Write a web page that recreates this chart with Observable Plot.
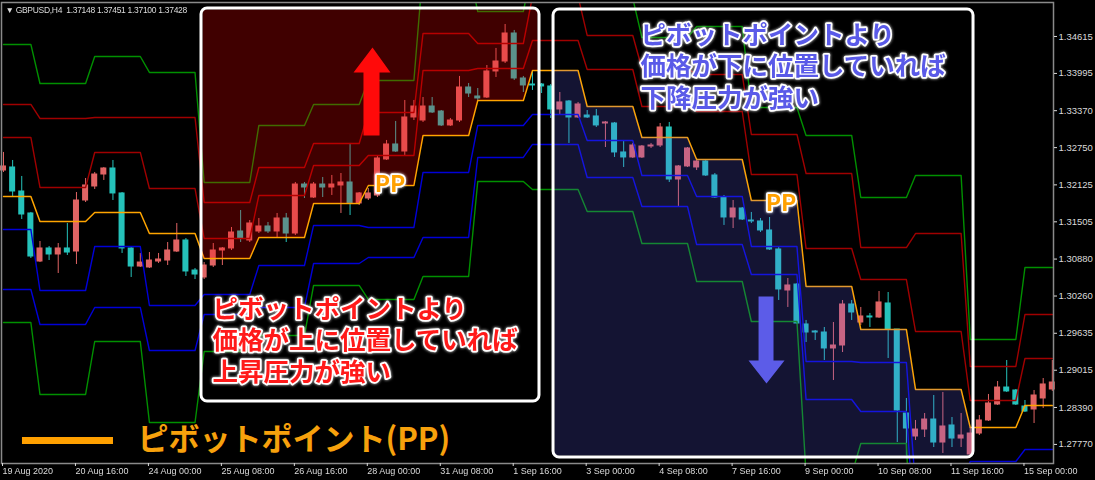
<!DOCTYPE html>
<html><head><meta charset="utf-8">
<script src="https://cdn.jsdelivr.net/npm/d3@7"></script>
<script src="https://cdn.jsdelivr.net/npm/@observablehq/plot@0.6"></script>
<style>
html,body{margin:0;padding:0;background:#000;}
#chart{width:1095px;height:480px;overflow:hidden;background:#000;}
</style></head><body><div id="chart"></div>
<script>
// ---- Data (GBPUSD H4, bar 0 = 19 Aug 2020 08:00) ----
const openP = [1.32366,1.32417,1.32014,1.31645,1.30839,1.31058,1.30957,1.31058,1.31007,1.31863,
1.32098,1.32299,1.32400,1.31981,1.31058,1.30755,1.30739,1.30839,1.30856,1.31007,
1.31192,1.30688,1.30571,1.30772,1.31024,1.31058,1.31343,1.31192,1.31343,1.31427,
1.31343,1.31561,1.31309,1.32131,1.31913,1.32131,1.32081,1.32115,1.32165,1.31813,
1.31897,1.31947,1.32551,1.32803,1.32685,1.33256,1.33205,1.33440,1.33356,1.33122,
1.33205,1.33759,1.33608,1.33591,1.34028,1.34195,1.34665,1.33910,1.33809,1.33809,
1.33776,1.33390,1.33524,1.33256,1.33289,1.33273,1.33155,1.33155,1.32669,1.32585,
1.32585,1.32769,1.32786,1.33088,1.32215,1.32434,1.32417,1.32517,1.32283,1.31913,
1.31578,1.31729,1.31527,1.31511,1.31360,1.31041,1.30353,1.30453,1.29783,1.29665,
1.29648,1.29380,1.29430,1.30118,1.29816,1.29917,1.29900,1.30135,1.29698,1.28289,
1.27903,1.28020,1.28188,1.27802,1.28088,1.27869,1.27601,1.27953,1.28172,1.28440,
1.28725,1.28675,1.28406,1.28356,1.28541,1.28692];
const highP = [1.32669,1.32534,1.32266,1.31662,1.31175,1.31091,1.31141,1.31477,1.31997,1.32232,
1.32333,1.32417,1.32534,1.31997,1.31074,1.30974,1.30990,1.30974,1.31158,1.31477,
1.31225,1.30722,1.30822,1.31141,1.31074,1.31410,1.31695,1.31527,1.31561,1.31494,
1.31645,1.31645,1.32165,1.32165,1.32165,1.32249,1.32283,1.32316,1.32820,1.31997,
1.32064,1.32601,1.32870,1.33189,1.33541,1.33541,1.33591,1.33591,1.33373,1.33239,
1.33944,1.33826,1.33742,1.34128,1.34414,1.34816,1.34716,1.33944,1.34028,1.33826,
1.33809,1.33675,1.33541,1.33508,1.33373,1.33390,1.33189,1.33172,1.32870,1.32820,
1.32786,1.32820,1.33155,1.33172,1.32450,1.32752,1.32568,1.32534,1.32316,1.31947,
1.31863,1.31746,1.31662,1.31561,1.31578,1.31074,1.30554,1.30470,1.29850,1.29682,
1.29732,1.29816,1.30185,1.30185,1.30068,1.29967,1.30336,1.30319,1.29698,1.28541,
1.28172,1.28289,1.28591,1.28642,1.28222,1.28289,1.28054,1.28255,1.28608,1.28826,
1.29178,1.28692,1.28507,1.28675,1.28876,1.29178];
const lowP = [1.32333,1.31930,1.31544,1.30890,1.30822,1.30856,1.30638,1.30940,1.30789,1.31829,
1.32048,1.32199,1.31863,1.30974,1.30571,1.30739,1.30722,1.30806,1.30772,1.30990,
1.30588,1.30537,1.30537,1.30739,1.30772,1.31024,1.31158,1.31158,1.31309,1.31309,
1.31242,1.31158,1.31276,1.31897,1.31897,1.31913,1.31947,1.31645,1.31611,1.31779,
1.31863,1.31913,1.32534,1.32669,1.32618,1.33205,1.33172,1.33323,1.33105,1.33105,
1.33172,1.33591,1.33541,1.33575,1.33927,1.34162,1.33877,1.33675,1.33709,1.33658,
1.33239,1.33289,1.32820,1.33239,1.33239,1.33088,1.32752,1.32585,1.32417,1.32568,
1.32568,1.32736,1.32752,1.32165,1.31746,1.32417,1.32366,1.32266,1.31897,1.31444,
1.31393,1.31527,1.31477,1.31326,1.31024,1.30185,1.30068,1.29783,1.29480,1.29514,
1.29178,1.28843,1.29312,1.29850,1.29766,1.29732,1.29884,1.29212,1.27802,1.27584,
1.27836,1.27886,1.27718,1.27618,1.27718,1.27718,1.27567,1.27920,1.28155,1.28423,
1.28642,1.28423,1.28306,1.28121,1.28373,1.28659];
const closeP = [1.32434,1.32014,1.31628,1.30923,1.31058,1.30957,1.31058,1.30990,1.31863,1.32115,
1.32299,1.32400,1.31981,1.31058,1.30755,1.30822,1.30856,1.30873,1.31024,1.31192,
1.30672,1.30621,1.30772,1.31024,1.31058,1.31326,1.31225,1.31477,1.31427,1.31343,
1.31561,1.31309,1.32131,1.32081,1.32131,1.32081,1.32131,1.32165,1.31813,1.31981,
1.31981,1.32568,1.32803,1.32685,1.33256,1.33440,1.33440,1.33340,1.33122,1.33205,
1.33759,1.33658,1.33575,1.34028,1.34195,1.34665,1.33910,1.33793,1.33793,1.33776,
1.33390,1.33508,1.33256,1.33474,1.33256,1.33122,1.33172,1.32669,1.32585,1.32786,
1.32769,1.32786,1.33088,1.32215,1.32434,1.32736,1.32517,1.32283,1.31913,1.31578,
1.31729,1.31544,1.31511,1.31360,1.31041,1.30370,1.30437,1.29799,1.29648,1.29648,
1.29380,1.29430,1.30118,1.29984,1.29917,1.29900,1.30152,1.29698,1.28339,1.28037,
1.28020,1.28188,1.27802,1.28071,1.27869,1.27920,1.27953,1.28172,1.28457,1.28725,
1.28659,1.28440,1.28322,1.28591,1.28776,1.28809];

// first bar index of each trading day (19 Aug ... 15 Sep)
const dayStart = [0,4,10,16,22,28,34,40,46,52,58,64,70,76,82,88,94,100,106,112];
// daily pivot levels
const R3 = [1.34481,1.33826,1.34279,1.34011,1.32165,1.33122,1.33474,1.33877,1.35756,1.35034,1.35790,1.35253,1.34598,1.34783,1.33424,1.32954,1.31913,1.32283,1.29531,1.30739];
const R2 = [1.33474,1.33239,1.33256,1.33256,1.31829,1.32417,1.32820,1.33340,1.34665,1.34497,1.35286,1.34632,1.34078,1.33977,1.32971,1.32316,1.31074,1.31309,1.29078,1.29950];
const R1 = [1.32920,1.32081,1.32669,1.32064,1.31225,1.31947,1.32450,1.32618,1.34044,1.34078,1.34548,1.34061,1.33440,1.33356,1.32299,1.31058,1.30537,1.29665,1.28507,1.29212];
const PP = [1.31930,1.31511,1.31662,1.31309,1.30890,1.31242,1.31813,1.32115,1.32954,1.33541,1.34044,1.33440,1.32920,1.32551,1.31863,1.30420,1.29698,1.28692,1.28054,1.28423];
const S1 = [1.31376,1.30353,1.31091,1.30101,1.30286,1.30772,1.31444,1.31410,1.32333,1.33122,1.33306,1.32870,1.32283,1.31930,1.31091,1.29161,1.29145,1.27047,1.27483,1.27685];
const S2 = [1.30370,1.29783,1.30068,1.29346,1.29950,1.30068,1.30806,1.30906,1.31242,1.32585,1.32803,1.32249,1.31762,1.31125,1.30621,1.28524,1.28322,1.26074,1.27030,1.26896];
const S3 = [1.29816,1.28608,1.29497,1.28138,1.29329,1.29598,1.30437,1.30202,1.30588,1.32182,1.32048,1.31678,1.31141,1.30504,1.29833,1.27265,1.27786,1.24430,1.26460,1.26158];

const tickBars = [0,8,16,24,32,40,48,56,64,72,80,88,96,104,112];
const tickLabels = ["19 Aug 2020","20 Aug 16:00","24 Aug 00:00","25 Aug 08:00","26 Aug 16:00","28 Aug 00:00","31 Aug 08:00","1 Sep 16:00","3 Sep 00:00","4 Sep 08:00","7 Sep 16:00","9 Sep 00:00","10 Sep 08:00","11 Sep 16:00","15 Sep 00:00"];
const priceTicks = [1.34615,1.33995,1.33370,1.32750,1.32125,1.31505,1.30880,1.30260,1.29635,1.29015,1.28390,1.27770];
const headerText = "▼ GBPUSD,H4  1.37148 1.37451 1.37100 1.37428";

// ---- Annotations (data coordinates: bar index, price) ----
const redBox = {x1: 21.71, x2: 58.77, y1: 1.28490, y2: 1.35085};
const blueBox = {x1: 60.31, x2: 106.36, y1: 1.27551, y2: 1.35068};
const upArrow = [[39.47,1.32954],[39.47,1.34011],[38.38,1.34011],[40.46,1.34430],[42.43,1.34011],[41.23,1.34011],[41.23,1.32954]];
const downArrow = [[82.79,1.30252],[82.79,1.29178],[81.69,1.29178],[83.66,1.28792],[85.64,1.29178],[84.43,1.29178],[84.43,1.30252]];
const redNote = {x: 22.92, y: 1.29531, text: "ピボットポイントより\n価格が上に位置していれば\n上昇圧力が強い"};
const blueNote = {x: 69.85, y: 1.34128, text: "ピボットポイントより\n価格が下に位置していれば\n下降圧力が強い"};
const ppLabels = [{x: 42.38, y: 1.32131}, {x: 85.25, y: 1.31813}];
const legend = {x1: 2.08, x2: 12.06, y: 1.27836, tx: 14.69, text: "ピボットポイント(PP)"};

// ---- Build tables ----
const bars = openP.map((o, i) => ({i, o, h: highP[i], l: lowP[i], c: closeP[i]}));
const dayOf = i => d3.bisectRight(dayStart, i) - 1;
const perBar = arr => bars.map(b => ({i: b.i, v: arr[dayOf(b.i)]}));
const bull = "#e06464", bear = "#25c2ba";
const colOf = d => d.c >= d.o ? bull : bear;
const yTop = 1.35185, yBot = 1.27450;

const levelStyles = [
  [R3, "#009000"], [R2, "#a00000"], [R1, "#a00000"],
  [S1, "#0000d8"], [S2, "#0000d8"], [S3, "#009000"]
];
const jp = "Noto Sans CJK JP";

const marks = [
  Plot.ruleX(bars, {x: "i", y1: "l", y2: "h", stroke: colOf, strokeWidth: 1}),
  Plot.rect(bars, {x1: d => d.i - 0.33, x2: d => d.i + 0.33, y1: "o", y2: "c", fill: colOf, insetTop: -0.5, insetBottom: -0.5}),
  ...levelStyles.map(([arr, col]) => Plot.line(perBar(arr), {x: "i", y: "v", stroke: col, strokeWidth: 1.4, clip: true})),
  Plot.line(perBar(PP), {x: "i", y: "v", stroke: "#ffa500", strokeWidth: 1.5, clip: true}),
  Plot.areaY(perBar(PP), {x: "i", y1: "v", y2: () => yTop, fill: "#ff0000", fillOpacity: 0.25}),
  Plot.areaY(perBar(PP), {x: "i", y1: "v", y2: () => yBot, fill: "#6464ff", fillOpacity: 0.2}),
  Plot.rect([redBox, blueBox], {x1: "x1", x2: "x2", y1: "y1", y2: "y2", fill: "none", stroke: "#ffffff", strokeWidth: 3, rx: 6}),
  Plot.line(upArrow, {x: d => d[0], y: d => d[1], fill: "#ff0a0a", stroke: "none"}),
  Plot.line(downArrow, {x: d => d[0], y: d => d[1], fill: "#5c5ce8", stroke: "none"}),
  Plot.text([redNote], {x: "x", y: "y", text: "text", textAnchor: "start", lineAnchor: "middle", lineHeight: 1.22,
    fontSize: 25.5, fontWeight: 700, fontFamily: jp, fill: "#ff1a1a", stroke: "#ffffff", strokeWidth: 3.5}),
  Plot.text([blueNote], {x: "x", y: "y", text: "text", textAnchor: "start", lineAnchor: "middle", lineHeight: 1.22,
    fontSize: 25.5, fontWeight: 700, fontFamily: jp, fill: "#5a5ae8", stroke: "#ffffff", strokeWidth: 3.5}),
  Plot.text(ppLabels, {x: "x", y: "y", text: () => "PP", textAnchor: "middle", lineAnchor: "middle",
    fontSize: 23, fontWeight: 700, fontFamily: jp, fill: "#ffa000", stroke: "#ffffff", strokeWidth: 3.5}),
  Plot.ruleY([legend], {x1: "x1", x2: "x2", y: "y", stroke: "#ffa000", strokeWidth: 7}),
  Plot.text([legend], {x: "tx", y: "y", text: "text", textAnchor: "start", lineAnchor: "middle",
    fontSize: 31, fontWeight: 700, fontFamily: jp, fill: "#f7a10c"}),
  Plot.frame({stroke: "#8a8a8a", strokeWidth: 1.5}),
  Plot.axisY(priceTicks, {anchor: "right", tickSize: 3, tickPadding: 2, tickFormat: d3.format(".5f"),
    fontSize: 9.5, fontFamily: "Liberation Sans", color: "#dadada"}),
  Plot.axisX(tickBars, {anchor: "bottom", tickSize: 3, tickPadding: 1, textAnchor: "start", dx: -1,
    tickFormat: d => tickLabels[tickBars.indexOf(d)], fontSize: 9, fontFamily: "Liberation Sans", color: "#dadada"}),
  Plot.text([headerText], {frameAnchor: "top-left", dx: 4, dy: 4, lineAnchor: "top", textAnchor: "start",
    fontSize: 8.5, fontFamily: "Liberation Sans", fill: "#dcdcdc"})
];

const plot = Plot.plot({
  width: 1095, height: 480,
  marginLeft: 1, marginRight: 42, marginTop: 2, marginBottom: 17,
  style: {background: "#000", color: "#dadada", overflow: "hidden"},
  x: {type: "linear", domain: [-0.22, 115.13]},
  y: {type: "linear", domain: [yBot, yTop]},
  marks
});
document.getElementById("chart").appendChild(plot);

// clip the shaded areas to the inside of their boxes
try {
  const xs = plot.scale("x"), ys = plot.scale("y");
  const ns = "http://www.w3.org/2000/svg";
  const defs = document.createElementNS(ns, "defs");
  plot.insertBefore(defs, plot.firstChild);
  const addClip = (id, box) => {
    const cp = document.createElementNS(ns, "clipPath");
    cp.setAttribute("id", id);
    const r = document.createElementNS(ns, "rect");
    const x1 = xs.apply(box.x1) + 1.5, x2 = xs.apply(box.x2) - 1.5;
    const y1 = ys.apply(box.y2) + 1.5, y2 = ys.apply(box.y1) - 1.5;
    r.setAttribute("x", x1); r.setAttribute("y", y1);
    r.setAttribute("width", x2 - x1); r.setAttribute("height", y2 - y1);
    cp.appendChild(r); defs.appendChild(cp);
  };
  addClip("clipRed", redBox);
  addClip("clipBlue", blueBox);
  const areas = plot.querySelectorAll('g[aria-label="area"]');
  if (areas[0]) areas[0].setAttribute("clip-path", "url(#clipRed)");
  if (areas[1]) areas[1].setAttribute("clip-path", "url(#clipBlue)");
  const texts = Array.from(plot.querySelectorAll('g[aria-label="text"]'));
  texts.slice(0, 3).forEach(g => {
    g.style.filter = "drop-shadow(0 0 1.5px rgba(255,255,255,0.9))";
    g.querySelectorAll("text").forEach(t => t.setAttribute("stroke-linejoin", "round"));
  });
  const hdr = texts[texts.length - 1];
  if (hdr) hdr.querySelectorAll("text").forEach(t => t.setAttribute("letter-spacing", "-0.3"));
} catch (e) { console.log(e); }
</script></body></html>
